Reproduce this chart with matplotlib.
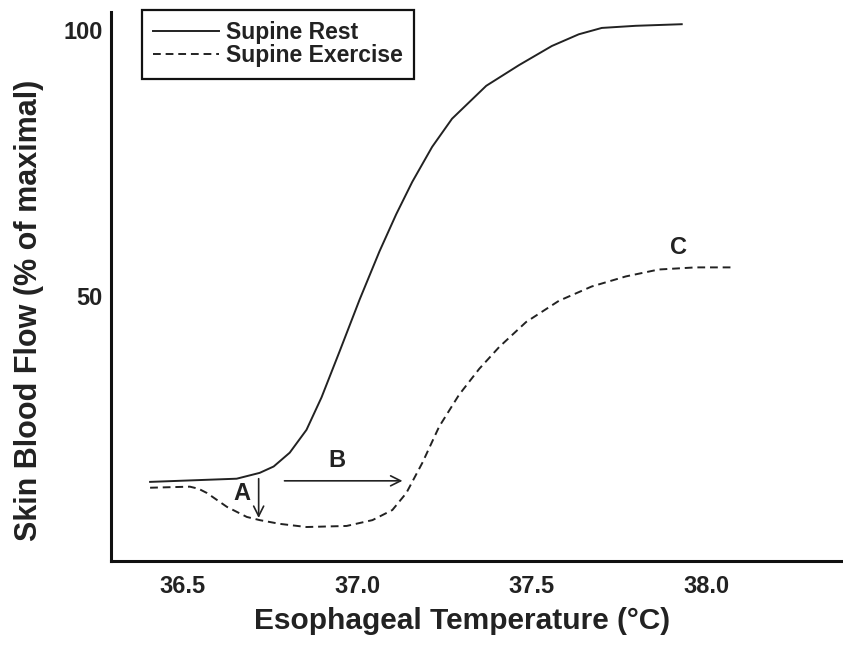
import numpy as np
import matplotlib.pyplot as plt

# curves (temperature in deg C, flow in % of maximal)
rest_t = [36.406, 36.654, 36.72, 36.76, 36.806, 36.854, 36.897, 36.949, 37.006,
          37.063, 37.111, 37.157, 37.214, 37.271, 37.369, 37.463, 37.557, 37.634,
          37.70, 37.797, 37.929]
rest_f = [14.9, 15.5, 16.6, 17.8, 20.4, 24.7, 30.8, 39.5, 49.2,
          58.3, 65.3, 71.4, 78.0, 83.3, 89.5, 93.4, 97.0, 99.2,
          100.4, 100.8, 101.1]

exer_t = [36.406, 36.52, 36.545, 36.569, 36.626, 36.683, 36.72, 36.777, 36.854,
          36.969, 37.043, 37.10, 37.14, 37.186, 37.234, 37.291, 37.349, 37.406,
          37.483, 37.577, 37.671, 37.769, 37.863, 37.969, 38.071]
exer_f = [13.8, 14.0, 13.6, 12.8, 10.2, 8.3, 7.7, 7.0, 6.4,
          6.6, 7.7, 9.6, 12.8, 18.5, 25.3, 31.3, 36.2, 40.3,
          45.0, 49.0, 51.7, 53.6, 54.9, 55.3, 55.3]

xticks = [36.5, 37.0, 37.5, 38.0]
xtick_labels = ['36.5', '37.0', '37.5', '38.0']
yticks = [50, 100]

# arrow A (drop), arrow B (shift), labels
arrow_a = (36.717, 15.5, 8.1)
arrow_b = (36.791, 37.129, 15.1)
labels = {'A': (36.669, 12.8), 'B': (36.94, 19.0), 'C': (37.92, 59.1)}

plt.rcParams['font.family'] = ['Liberation Sans', 'DejaVu Sans']
plt.rcParams['font.weight'] = 'bold'

fig = plt.figure(figsize=(8.43, 6.46), dpi=100)
ax = fig.add_axes([111/843, 85/646, 1 - 111/843, (561-12)/646])

ax.plot(rest_t, rest_f, color='#222222', lw=1.4, label='Supine Rest')
ax.plot(exer_t, exer_f, color='#222222', lw=1.4, dashes=(4, 2.5),
        label='Supine Exercise')

ax.annotate('', xy=(arrow_a[0], arrow_a[2]), xytext=(arrow_a[0], arrow_a[1]),
            arrowprops=dict(arrowstyle='->', lw=1.2, color='#222222',
                            mutation_scale=18, shrinkA=0, shrinkB=0))
ax.annotate('', xy=(arrow_b[1], arrow_b[2]), xytext=(arrow_b[0], arrow_b[2]),
            arrowprops=dict(arrowstyle='->', lw=1.2, color='#222222',
                            mutation_scale=18, shrinkA=0, shrinkB=0))
for k, (tx, ty) in labels.items():
    ax.text(tx, ty, k, fontsize=17, fontweight='bold', color='#222222',
            ha='center', va='center')

ax.set_xlim(36.294, 38.391)
ax.set_ylim(0, 103.4)
ax.set_xticks(xticks)
ax.set_xticklabels(xtick_labels)
ax.set_yticks(yticks)
ax.tick_params(length=0, labelsize=17, colors='#222222')
ax.tick_params(axis='x', pad=10)
ax.tick_params(axis='y', pad=6)
for s in ['top', 'right']:
    ax.spines[s].set_visible(False)
for s in ['left', 'bottom']:
    ax.spines[s].set_linewidth(2.2)
    ax.spines[s].set_color('#111111')

ax.set_xlabel('Esophageal Temperature (°C)', fontsize=21.5, fontweight='bold',
              color='#222222')
ax.xaxis.set_label_coords(0.48, -0.084)
ax.set_ylabel('Skin Blood Flow (% of maximal)', fontsize=22, fontweight='bold',
              color='#222222')
ax.yaxis.set_label_coords(-0.092, 0.457)

leg = ax.legend(loc='upper left', bbox_to_anchor=(142/843, 1 - 10/646),
                bbox_transform=fig.transFigure, borderaxespad=0,
                fontsize=16.5, fancybox=False, handlelength=2.85,
                handletextpad=0.3, labelspacing=0.0, borderpad=0.5)
leg.get_frame().set_edgecolor('#111111')
leg.get_frame().set_linewidth(1.6)
leg.get_frame().set_alpha(1)
for t in leg.get_texts():
    t.set_color('#222222')

fig.savefig('out.png', dpi=100)
